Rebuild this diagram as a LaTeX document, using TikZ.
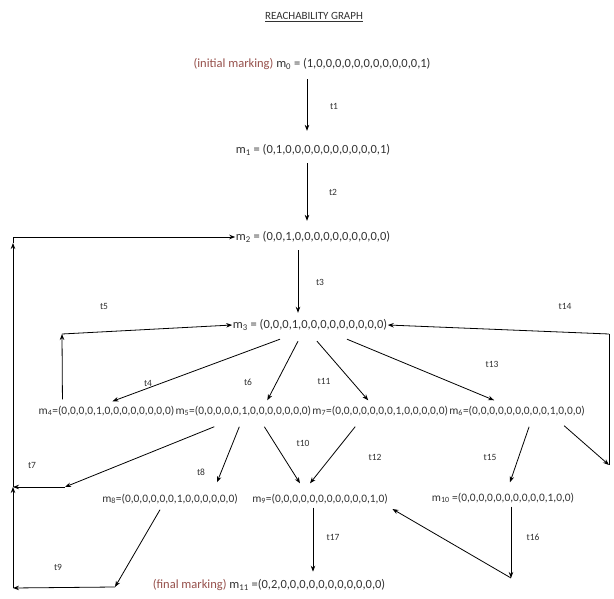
\documentclass[tikz,border=0pt]{standalone}
\usepackage{fontspec}
\setmainfont{Carlito}
\usetikzlibrary{arrows.meta,calc}
\definecolor{txt}{RGB}{50,50,50}
\definecolor{markc}{RGB}{150,80,75}
\begin{document}
\begin{tikzpicture}[x=1pt,y=-1pt,
  st/.style={font=\fontsize{12.5}{14}\selectfont, text=txt, inner sep=0.5pt},
  rw/.style={font=\fontsize{11.4}{13}\selectfont, text=txt, inner sep=0.5pt},
  lbl/.style={font=\fontsize{9.5}{11}\selectfont, text=txt, inner sep=0pt},
  arr/.style={draw=black, line width=0.8pt, -{Stealth[length=6pt,width=4.5pt]}},
  ln/.style={draw=black, line width=0.8pt}]
\useasboundingbox[fill=white] (0,0) rectangle (614,599);

% title
\node[font=\fontsize{11}{13}\selectfont, text=txt, inner sep=0pt] (title) at (314,17) {\underline{REACHABILITY GRAPH}};

% markings
\node[st] (m0) at (312,64) {\textcolor{markc}{(initial marking)} m\textsubscript{0} = (1,0,0,0,0,0,0,0,0,0,0,0,1)};
\node[st] (m1) at (313,150) {m\textsubscript{1} = (0,1,0,0,0,0,0,0,0,0,0,0,1)};
\node[st] (m2) at (313,237) {m\textsubscript{2} = (0,0,1,0,0,0,0,0,0,0,0,0,0)};
\node[st] (m3) at (310,325) {m\textsubscript{3} = (0,0,0,1,0,0,0,0,0,0,0,0,0)};

\node[rw, anchor=west] (m4) at (38,411) {m\textsubscript{4}=(0,0,0,0,1,0,0,0,0,0,0,0,0)};
\node[rw, anchor=west] (m5) at (m4.east) {m\textsubscript{5}=(0,0,0,0,0,1,0,0,0,0,0,0,0)};
\node[rw, anchor=west] (m7) at (m5.east) {m\textsubscript{7}=(0,0,0,0,0,0,0,1,0,0,0,0,0)};
\node[rw, anchor=west] (m6) at (m7.east) {m\textsubscript{6}=(0,0,0,0,0,0,0,0,0,1,0,0,0)};

\node[rw] (m8) at (170,499) {m\textsubscript{8}=(0,0,0,0,0,0,1,0,0,0,0,0,0)};
\node[rw] (m9) at (320,499) {m\textsubscript{9}=(0,0,0,0,0,0,0,0,0,0,0,1,0)};
\node[rw] (m10) at (503,498) {m\textsubscript{10} =(0,0,0,0,0,0,0,0,0,0,1,0,0)};
\node[st] (m11) at (269,585) {\textcolor{markc}{(final marking)} m\textsubscript{11} =(0,2,0,0,0,0,0,0,0,0,0,0,0)};

% corner points
\coordinate (c5) at (62,334);
\coordinate (c14a) at (609,465);
\coordinate (c14b) at (609,334);
\coordinate (c7) at (65,487);
\coordinate (cm) at (13,487);
\coordinate (cb) at (13,588);
\coordinate (ct) at (13,237);
\coordinate (c9) at (115,587);
\coordinate (c16) at (511,578);

% main vertical chain
\draw[arr] ([shift={(-5,9)}]m0.south) -- ([shift={(-6,-13)}]m1.north);
\draw[arr] ([shift={(-6,7)}]m1.south) -- ([shift={(-6,-10)}]m2.north);
\draw[arr] ([shift={(-15,7)}]m2.south) -- ([shift={(-12,-6)}]m3.north);

% from m3
\draw[arr] ([shift={(-30,8)}]m3.south) -- ([shift={(6,-4)}]m4.north);
\draw[arr] ([shift={(-12,10)}]m3.south) -- ([shift={(24,-5)}]m5.north);
\draw[arr] ([shift={(7,10)}]m3.south) -- ([shift={(-12,-5)}]m7.north);
\draw[arr] ([shift={(37,8)}]m3.south) -- ([shift={(-23,-5)}]m6.north);

% t5 loop
\draw[arr] ([shift={(-44,-6)}]m4.north) -- (c5);
\draw[arr] (c5) -- (m3.west);

% t14 loop
\draw[arr] ([shift={(47,9)}]m6.south) -- (c14a);
\draw[ln] (c14a) -- (c14b);
\draw[arr] (c14b) -- (m3.east);

% from m5
\draw[arr] ([shift={(-29,10)}]m5.south) -- (c7);
\draw[arr] (c7) -- (cm);
\draw[arr] ([shift={(-4,10)}]m5.south) -- ([shift={(47,-11)}]m8.north);
\draw[arr] ([shift={(21,10)}]m5.south) -- ([shift={(-20,-10)}]m9.north);
\draw[arr] ([shift={(-25,10)}]m7.south) -- ([shift={(-10,-10)}]m9.north);

% from m6
\draw[arr] ([shift={(12,10)}]m6.south) -- ([shift={(7,-10)}]m10.north);

% left loop
\draw[arr] ([shift={(-10,5)}]m8.south) -- (c9);
\draw[arr] (c9) -- (cb);
\draw[arr] (cb) -- (cm);
\draw[arr] (cm) -- ([yshift=-6]ct);
\draw[ln] ([yshift=-6]ct) -- (ct);
\draw[arr] (ct) -- (m2.west);

% t17, t16
\draw[arr] ([shift={(-7,3)}]m9.south) -- ([shift={(44,-7)}]m11.north);
\draw[arr] ([shift={(8,3)}]m10.south) -- (c16);
\draw[arr] (c16) -- ([shift={(4,10)}]m9.east);

% transition labels
\node[lbl] (t1) at (334,106) {t1};
\node[lbl] (t2) at (333,192) {t2};
\node[lbl] (t3) at (320,282) {t3};
\node[lbl] (t5) at (104,306) {t5};
\node[lbl] (t14) at (565,306) {t14};
\node[lbl] (t4) at (148,383) {t4};
\node[lbl] (t6) at (248,382) {t6};
\node[lbl] (t11) at (324,381) {t11};
\node[lbl] (t13) at (492,364) {t13};
\node[lbl] (t7) at (32,465) {t7};
\node[lbl] (t8) at (201,472) {t8};
\node[lbl] (t10) at (303,443) {t10};
\node[lbl] (t12) at (375,457) {t12};
\node[lbl] (t15) at (490,457) {t15};
\node[lbl] (t9) at (58,567) {t9};
\node[lbl] (t17) at (333,537) {t17};
\node[lbl] (t16) at (533,537) {t16};
\end{tikzpicture}
\end{document}
